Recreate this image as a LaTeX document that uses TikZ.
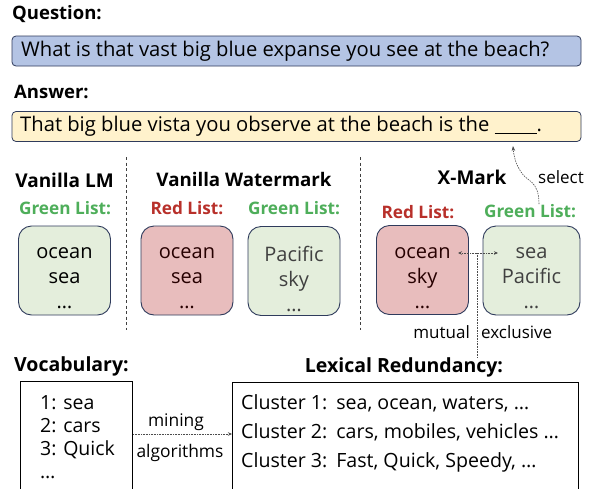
\documentclass[tikz,border=0pt]{standalone}
\usepackage{fontspec}
\setmainfont{Open Sans}
\usetikzlibrary{arrows.meta}
\definecolor{navy}{HTML}{2F3B5C}
\definecolor{qfill}{HTML}{B4C4E4}
\definecolor{afill}{HTML}{FFF2CC}
\definecolor{gfill}{HTML}{E4EEDC}
\definecolor{rfill}{HTML}{E8BDBD}
\definecolor{gtext}{HTML}{4EAE5A}
\definecolor{rtext}{HTML}{B8302A}
\begin{document}
\begin{tikzpicture}[x=1pt,y=-1pt,
  head/.style={font=\fontsize{18.5}{22}\selectfont\bfseries, inner sep=0pt},
  title/.style={font=\fontsize{19}{22}\selectfont\bfseries, inner sep=0pt},
  glab/.style={font=\fontsize{17.2}{20}\selectfont\bfseries, text=gtext, inner sep=0pt},
  rlab/.style={font=\fontsize{17.2}{20}\selectfont\bfseries, text=rtext, inner sep=0pt},
  bar/.style={draw=navy, line width=0.8pt, rounded corners=4pt, minimum width=569pt, minimum height=30pt, inner sep=0pt},
  listbox/.style={draw=navy, line width=0.9pt, rounded corners=13pt, minimum width=92pt, minimum height=89pt, inner sep=0pt},
  boxtext/.style={align=center, font=\fontsize{20}{25}\selectfont, inner sep=0pt},
  dline/.style={dashed, line width=1pt, draw=black!75, dash pattern=on 3pt off 2.5pt},
  conn/.style={densely dotted, line width=0.6pt, draw=black!70},
  plain/.style={font=\fontsize{17}{20}\selectfont, inner sep=0pt},
  sqbox/.style={draw=black, line width=0.9pt, inner sep=0pt}
]
\clip (0,0) rectangle (595,488);
\fill[white] (0,0) rectangle (595,488);

% question / answer
\node[head, anchor=west] (qh) at (12,14) {Question:};
\node[bar, fill=qfill] (q) at (296.5,51) {};
\node[anchor=west, font=\fontsize{20.2}{24}\selectfont, inner sep=0pt] (qt) at (21,51) {What is that vast big blue expanse you see at the beach?};
\node[head, anchor=west] (ah) at (14,92) {Answer:};
\node[bar, fill=afill] (a) at (296.5,126.5) {};
\node[anchor=west, font=\fontsize{20.2}{24}\selectfont, inner sep=0pt] (at) at (20,126.5) {That big blue vista you observe at the beach is the \underline{\hspace{42pt}}.};
\coordinate (blank) at (513,146);

% separators
\draw[dline] (126,157) -- (126,330);
\draw[dline] (360,157) -- (360,330);

% Vanilla LM
\node[title] (t1) at (64.5,180) {Vanilla LM};
\node[glab] (g1) at (65,208) {Green List:};
\node[listbox, fill=gfill] (b1) at (64.5,270.5) {};
\node[boxtext] (b1t) at ([yshift=-8pt]b1.center) {ocean\\sea\\\ldots};

% Vanilla Watermark
\node[title, font=\fontsize{18.7}{22}\selectfont\bfseries] (t2) at (244,179) {Vanilla Watermark};
\node[rlab] (r2) at (187,208) {Red List:};
\node[glab] (g2) at (294,208) {Green List:};
\node[listbox, fill=rfill] (b2) at (187,270.5) {};
\node[boxtext, text=black!85!red] (b2t) at ([yshift=-8pt]b2.center) {ocean\\sea\\\ldots};
\node[listbox, fill=gfill] (b3) at (294,271) {};
\node[boxtext, text=black!75] (b3t) at ([yshift=-8pt]b3.center) {Pacific\\sky\\\ldots};

% X-Mark
\node[title] (t3) at (472,177) {X-Mark};
\node[plain] (sel) at (561,177) {select};
\node[rlab] (r3) at (418,212) {Red List:};
\node[glab] (g3) at (530,211) {Green List:};
\node[listbox, fill=rfill] (b4) at (422.5,270) {};
\node[boxtext, text=black!85!red] (b4t) at ([yshift=-8pt]b4.center) {ocean\\sky\\\ldots};
\node[listbox, fill=gfill, minimum width=97pt] (b5) at (531.5,270.5) {};
\node[boxtext, text=black!75] (b5t) at ([yshift=-8pt]b5.center) {sea\\Pacific\\\ldots};

\draw[conn, dashed, dash pattern=on 1.5pt off 1pt, -{Stealth[length=5pt,width=3.5pt]}] (g3.north -| 539,200) .. controls (539,180) and (527,182) .. (521,172) .. controls (516,164) and (514,158) .. (blank);

\coordinate (mxl) at (458,253);
\coordinate (mxr) at (498,253);
\coordinate (mxm) at (477,253);
\coordinate (mxb) at (477,358);
\draw[conn, {Stealth[length=4pt,width=3.5pt]}-{Stealth[length=4pt,width=3.5pt]}] (mxl) -- (mxr);
\draw[conn] (mxm) -- (mxb);
\node[plain, anchor=east] (mu) at (470,332) {mutual};
\node[plain, anchor=west] (ex) at (481,332) {exclusive};

% bottom
\node[head, anchor=west, font=\fontsize{19.5}{22}\selectfont\bfseries] (vh) at (14,366) {Vocabulary:};
\node[head, font=\fontsize{19.5}{22}\selectfont\bfseries] (lh) at (404,367) {Lexical Redundancy:};
\node[sqbox, minimum width=112pt, minimum height=140pt, anchor=north west] (voc) at (20,381) {};
\node[sqbox, minimum width=346pt, minimum height=140pt, anchor=north west] (lex) at (232,382) {};
\node[anchor=north west, align=left, font=\fontsize{19.5}{23.2}\selectfont, inner sep=0pt] (vt) at (40,395) {1: sea\\2: cars\\3: Quick\\\ldots};
\node[anchor=north west, align=left, font=\fontsize{19.6}{29}\selectfont, inner sep=0pt] (lt) at (241,394) {Cluster 1:\hspace{9pt}sea, ocean, waters, \ldots\\Cluster 2:\hspace{9pt}cars, mobiles, vehicles \ldots\\Cluster 3:\hspace{9pt}Fast, Quick, Speedy, \ldots};
\draw[conn, -{Stealth[length=4pt,width=3.5pt]}] (voc.east |- 0,434) -- (lex.west |- 0,434);
\node[plain, font=\fontsize{17.4}{20}\selectfont] (mi) at (176,422) {mining};
\node[plain, font=\fontsize{17.4}{20}\selectfont] (al) at (180,453) {algorithms};
\end{tikzpicture}
\end{document}
